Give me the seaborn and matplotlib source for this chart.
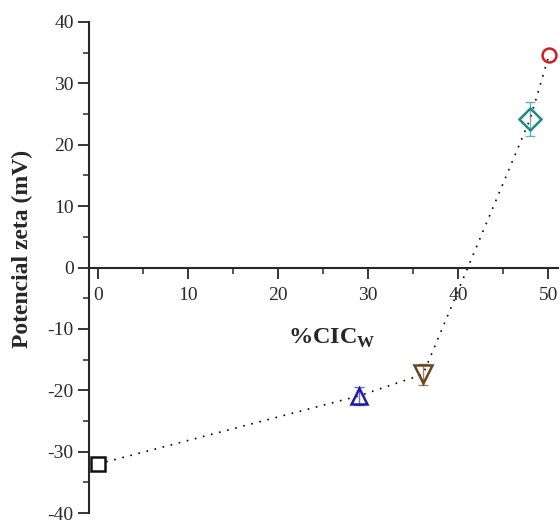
import numpy as np
import pandas as pd
import matplotlib
matplotlib.use("Agg")
import matplotlib.pyplot as plt
import seaborn as sns
from matplotlib.ticker import MultipleLocator

# Zeta potential vs %CIC_W
cic = [0, 29, 36.1, 48, 50.1]
zeta = [-32.0, -20.9, -17.4, 24.2, 34.6]
zeta_err = [0.0, 1.5, 1.7, 2.75, 0.0]
markers = ["s", "^", "v", "D", "o"]
msizes = [10, 12, 12.5, 11, 10]
faces = ["white", "none", "none", "none", "none"]
colors = ["#111111", "#1c1ca8", "#6b4420", "#1f8a86", "#cc1f1f"]

data = pd.DataFrame({"cic": cic, "zeta": zeta})

sns.set_style("ticks")
plt.rcParams["font.family"] = ["Liberation Serif", "DejaVu Serif"]
plt.rcParams["mathtext.fontset"] = "custom"
plt.rcParams["mathtext.rm"] = "Liberation Serif"
plt.rcParams["mathtext.bf"] = "Liberation Serif:bold"
plt.rcParams["axes.unicode_minus"] = False

fig = plt.figure(figsize=(5.6, 5.23), dpi=100)
ax = fig.add_axes([0.159, 0.019, 0.8375, 0.939])

# dotted guide line through the points
sns.lineplot(x="cic", y="zeta", data=data, ax=ax, color="black",
             linestyle=(0, (1, 4)), linewidth=1.2, sort=False, zorder=2)

for i in range(len(cic)):
    if zeta_err[i] > 0:
        ax.errorbar(cic[i], zeta[i], yerr=zeta_err[i], fmt="none",
                    ecolor=colors[i], elinewidth=1.0, capsize=3.6, capthick=1.0,
                    alpha=0.65, zorder=3)
    ax.plot(cic[i], zeta[i], marker=markers[i], markersize=msizes[i],
            markerfacecolor=faces[i], markeredgecolor=colors[i],
            markeredgewidth=1.8, linestyle="none", zorder=4)

ax.set_xlim(-1, 51.1)
ax.set_ylim(-40, 40)

ax.spines["left"].set_position(("data", -1))
ax.spines["bottom"].set_position(("data", 0))
ax.spines["top"].set_visible(False)
ax.spines["right"].set_visible(False)
ax.spines["left"].set_linewidth(1.5)
ax.spines["bottom"].set_linewidth(1.5)

ax.xaxis.set_major_locator(MultipleLocator(10))
ax.xaxis.set_minor_locator(MultipleLocator(5))
ax.yaxis.set_major_locator(MultipleLocator(10))
ax.yaxis.set_minor_locator(MultipleLocator(5))
ax.tick_params(which="major", direction="out", length=8, width=1.3,
               labelsize=14, labelcolor="#2a2a2a")
ax.tick_params(which="minor", direction="out", length=4, width=1.1)
ax.tick_params(axis="x", which="major", pad=6)
ax.tick_params(axis="y", which="major", pad=3)

ax.set_ylabel("Potencial zeta (mV)", fontsize=17, fontweight="bold")
ax.yaxis.set_label_coords(-0.119, 0.538)
ax.set_xlabel("")
ax.text(26.0, -12.4, r"%CIC$_{\mathbf{W}}$", fontsize=17.5, fontweight="bold",
        ha="center", va="baseline")

fig.savefig("out.png", dpi=100)
